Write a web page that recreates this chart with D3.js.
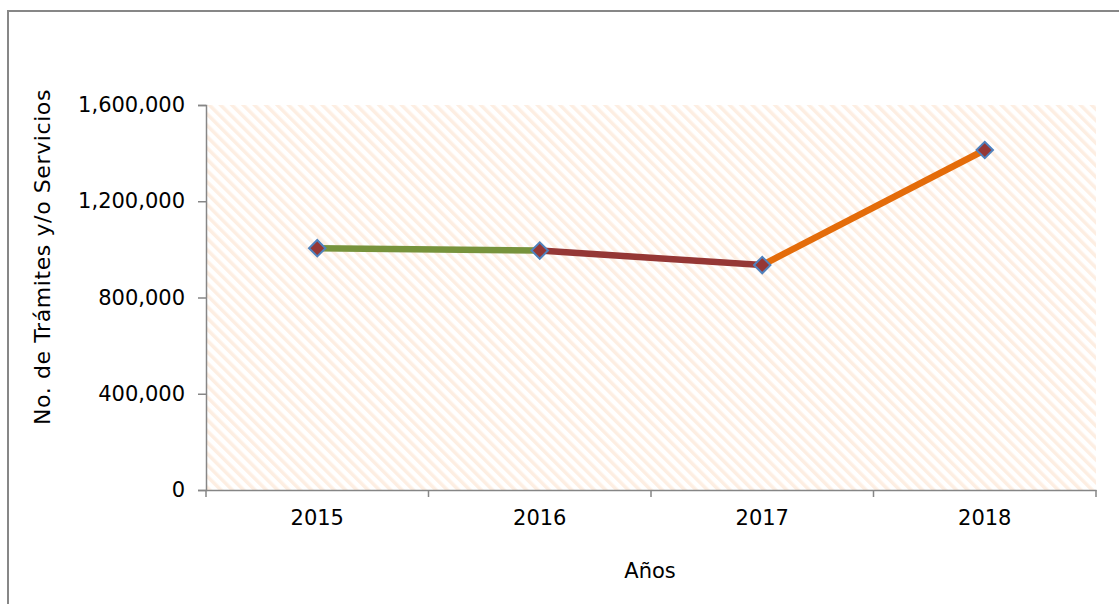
<!DOCTYPE html>
<html><head><meta charset="utf-8">
<script src="https://cdn.jsdelivr.net/npm/d3@7"></script>
<style>body{margin:0;background:#fff}svg{display:block}text{font-family:"DejaVu Sans",Verdana,sans-serif}</style>
</head><body><svg id="c" width="1119" height="604"></svg>
<script>
const years = ["2015","2016","2017","2018"];
const tramites = [1005000, 995000, 935000, 1413000];
const segmentColors = ["#77933c","#953735","#e46c0a"];
const yTicks = [0, 400000, 800000, 1200000, 1600000];

const svg = d3.select("#c");
const m = {l:206, r:1096, t:105, b:490};
const defs = svg.append("defs");
const pat = defs.append("pattern").attr("id","hatch").attr("patternUnits","userSpaceOnUse")
  .attr("width",8).attr("height",8).attr("patternTransform","rotate(-45)");
pat.append("rect").attr("width",8).attr("height",8).attr("fill","#ffffff");
pat.append("rect").attr("width",3.5).attr("height",8).attr("fill","#fdeee2");

svg.append("rect").attr("x",8).attr("y",11).attr("width",1200).attr("height",700)
  .attr("fill","none").attr("stroke","#878787").attr("stroke-width",2);

const x = d3.scaleBand().domain(years).range([m.l,m.r]);
const y = d3.scaleLinear().domain([0,1600000]).range([m.b,m.t]);

svg.append("rect").attr("x",m.l).attr("y",m.t).attr("width",m.r-m.l).attr("height",m.b-m.t).attr("fill","url(#hatch)");

// y axis
const ya = svg.append("g").attr("transform",`translate(${m.l},0)`)
  .call(d3.axisLeft(y).tickValues(yTicks).tickFormat(d3.format(",")).tickSize(8).tickPadding(13));
ya.attr("font-size",null).attr("font-family",null);
ya.select(".domain").attr("stroke","#868686").attr("stroke-width",1.5);
ya.selectAll(".tick line").attr("stroke","#868686").attr("stroke-width",1.5);
ya.selectAll("text").style("font-size","21px").attr("fill","#000");

// x axis
const xa = svg.append("g").attr("transform",`translate(0,${m.b})`)
  .call(d3.axisBottom(x).tickSize(0).tickPadding(20));
xa.attr("font-size",null).attr("font-family",null);
xa.select(".domain").attr("stroke","#868686").attr("stroke-width",1.5);
xa.selectAll("text").style("font-size","21px").attr("fill","#000");
const bounds = years.map(d=>x(d)).concat([m.r]);
xa.selectAll(".bt").data(bounds).enter().append("line").attr("class","bt")
  .attr("x1",d=>d).attr("x2",d=>d).attr("y1",0).attr("y2",7)
  .attr("stroke","#868686").attr("stroke-width",1.5);

const cx = d => x(d) + x.bandwidth()/2;
for (let i=0;i<years.length-1;i++){
  svg.append("line").attr("x1",cx(years[i])).attr("y1",y(tramites[i]))
    .attr("x2",cx(years[i+1])).attr("y2",y(tramites[i+1]))
    .attr("stroke",segmentColors[i]).attr("stroke-width",6.5);
}
svg.selectAll(".mk").data(years).enter().append("path").attr("class","mk")
  .attr("transform",(d,i)=>`translate(${cx(d)},${y(tramites[i])}) rotate(45)`)
  .attr("d","M-5.8,-5.8H5.8V5.8H-5.8Z")
  .attr("fill","#953735").attr("stroke","#4f81bd").attr("stroke-width",2);

svg.append("text").attr("transform","translate(50,257) rotate(-90)").attr("text-anchor","middle")
  .style("font-size","22px").style("letter-spacing","0.6px").text("No. de Trámites y/o Servicios");
svg.append("text").attr("x",650).attr("y",578).attr("text-anchor","middle")
  .style("font-size","21px").text("Años");
</script></body></html>
